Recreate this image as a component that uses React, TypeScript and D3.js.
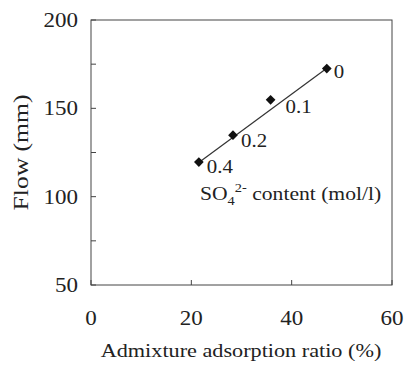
import React from "react";
import * as d3 from "d3";

const xValues = [47, 35.8, 28.3, 21.5];
const yValues = [172.5, 154.8, 134.8, 119.6];
const pointLabels = ["0", "0.1", "0.2", "0.4"];
const fitLine = [
  { x: 21.5, y: 119.3 },
  { x: 47, y: 172.7 },
];
const xTicks = [0, 20, 40, 60];
const yTicks = [50, 100, 150, 200];
const yMinorTicks = [75, 125, 175];

const W = 404;
const H = 365;
const M = { left: 91, right: 12, top: 20, bottom: 80 };
const FONT = "'Liberation Serif', 'DejaVu Serif', serif";
const col = "#222";

function T(props: {
  x: number;
  y: number;
  sx?: number;
  size: number;
  anchor?: string;
  dy?: string;
  rotate?: number;
  children: React.ReactNode;
}) {
  const { x, y, sx = 1.15, size, anchor = "start", dy, rotate = 0, children } = props;
  return (
    <text
      transform={`translate(${x},${y}) rotate(${rotate}) scale(${sx},1)`}
      textAnchor={anchor}
      fontSize={size}
      dy={dy}
      fill={col}
    >
      {children}
    </text>
  );
}

export default function App() {
  const x = d3.scaleLinear().domain([0, 60]).range([M.left, W - M.right]);
  const y = d3.scaleLinear().domain([50, 200]).range([H - M.bottom, M.top]);
  const line = d3
    .line<{ x: number; y: number }>()
    .x((d) => x(d.x))
    .y((d) => y(d.y));
  const diamond = d3.symbol().type(d3.symbolDiamond2).size(60)();
  const labelOffsets = [
    { dx: 7, dy: 9 },
    { dx: 15, dy: 13 },
    { dx: 8, dy: 12 },
    { dx: 8, dy: 11 },
  ];
  return (
    <svg
      width={W}
      height={H}
      style={{ position: "absolute", left: 0, top: 0, background: "#fff" }}
      fontFamily={FONT}
    >
      <rect
        x={x(0)}
        y={y(200)}
        width={x(60) - x(0)}
        height={y(50) - y(200)}
        fill="none"
        stroke="#444"
        strokeWidth={1}
      />
      {[...yTicks, ...yMinorTicks].map((t) => (
        <line key={"yt" + t} x1={x(0)} x2={x(0) + 5} y1={y(t)} y2={y(t)} stroke="#444" />
      ))}
      {xTicks.map((t) => (
        <line key={"xt" + t} x1={x(t)} x2={x(t)} y1={y(50)} y2={y(50) - 5} stroke="#444" />
      ))}
      {yTicks.map((t) => (
        <T key={"yl" + t} x={x(0) - 13} y={y(t)} dy="0.35em" anchor="end" size={20}>
          {t}
        </T>
      ))}
      {xTicks.map((t) => (
        <T key={"xl" + t} x={x(t)} y={325} anchor="middle" size={20}>
          {t}
        </T>
      ))}
      <T x={241} y={357} anchor="middle" size={19} sx={1.17}>
        Admixture adsorption ratio (%)
      </T>
      <T x={28} y={(y(50) + y(200)) / 2} anchor="middle" size={21} sx={1.22} rotate={-90}>
        Flow (mm)
      </T>
      <path d={line(fitLine) || ""} fill="none" stroke="#333" strokeWidth={1.2} />
      {xValues.map((v, i) => (
        <path
          key={"p" + i}
          d={diamond || ""}
          transform={`translate(${x(v)},${y(yValues[i])})`}
          fill="#111"
        />
      ))}
      {xValues.map((v, i) => (
        <T
          key={"pl" + i}
          x={x(v) + labelOffsets[i].dx}
          y={y(yValues[i]) + labelOffsets[i].dy}
          size={19}
          sx={1.1}
        >
          {pointLabels[i]}
        </T>
      ))}
      <text transform="translate(200,200) scale(1.2,1)" fontSize={18} fill={col}>
        SO
        <tspan fontSize={12} dy={5}>4</tspan>
        <tspan fontSize={12} dy={-13}>2-</tspan>
        <tspan dy={8}> content (mol/l)</tspan>
      </text>
    </svg>
  );
}
